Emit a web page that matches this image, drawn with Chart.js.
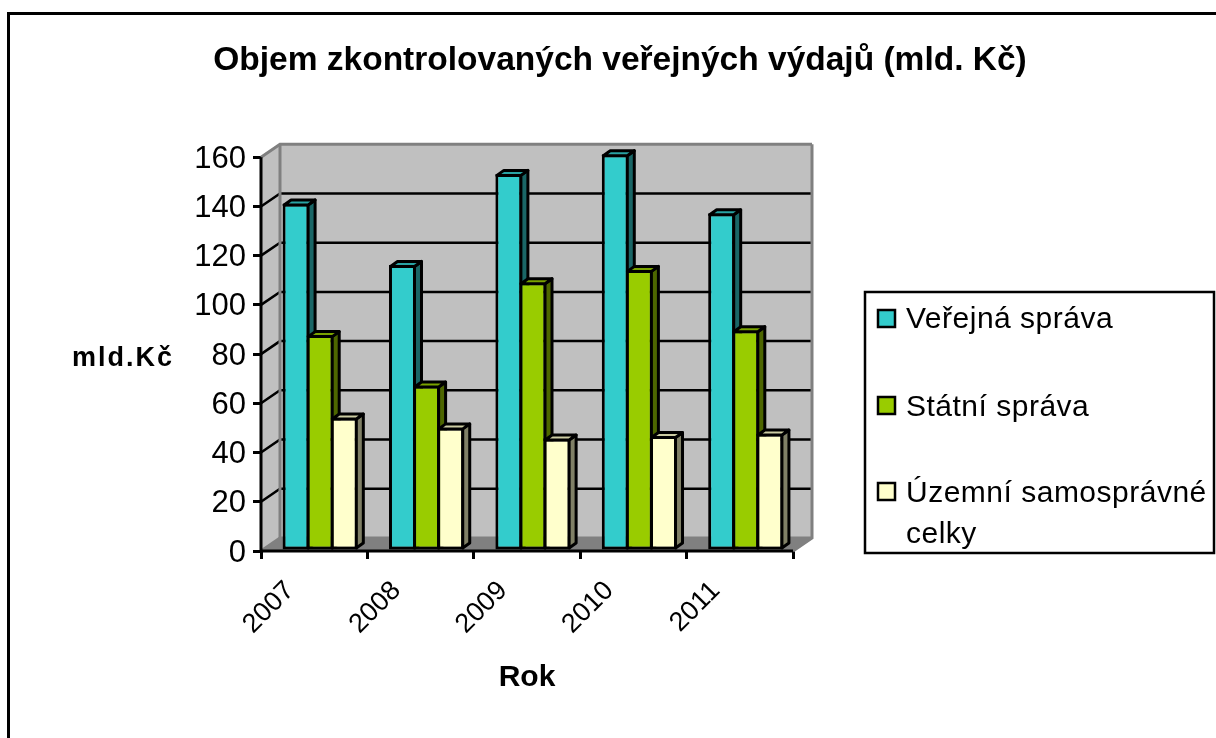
<!DOCTYPE html>
<html>
<head>
<meta charset="utf-8">
<script src="https://cdn.jsdelivr.net/npm/chart.js@4"></script>
<style>
html, body { margin: 0; padding: 0; background: #ffffff; }
#wrap { position: relative; width: 1216px; height: 738px; }
</style>
</head>
<body>
<div id="wrap"><canvas id="myChart" width="1216" height="738"></canvas></div>
<script>
const years = ['2007', '2008', '2009', '2010', '2011'];
const verejna = [140, 115, 152, 160, 136];
const statni = [86.5, 66, 108, 113, 88.5];
const uzemni = [53, 49, 44.5, 45.5, 46.5];
const y_ticks = [0, 20, 40, 60, 80, 100, 120, 140, 160];

const chart_title = 'Objem zkontrolovaných veřejných výdajů (mld. Kč)';
const y_title = 'mld.Kč';
const x_title = 'Rok';
const legend_lines = [['Veřejná správa'], ['Státní správa'], ['Územní samosprávné', 'celky']];

const face_colors = ['#33cccc', '#99cc00', '#ffffcc'];
const top_colors = ['#29a3a3', '#7aa300', '#cccca3'];
const side_colors = ['#1a6666', '#4d6600', '#808066'];

const font_name = '"Liberation Sans", Arial, sans-serif';

// how far the back wall and the bars sit behind the axis plane
const wall_dx = 19, wall_dy = -13;
const bar_dx = 6, bar_dy = -3;
const depth_dx = 7, depth_dy = -5;

function poly(ctx, pts, fill, stroke, width)
{
    ctx.beginPath();
    ctx.moveTo(pts[0][0], pts[0][1]);
    for (let i = 1; i < pts.length; i++)
        ctx.lineTo(pts[i][0], pts[i][1]);
    ctx.closePath();
    if (fill) {
        ctx.fillStyle = fill;
        ctx.fill();
    }
    if (stroke) {
        ctx.strokeStyle = stroke;
        ctx.lineWidth = width;
        ctx.lineJoin = 'round';
        ctx.stroke();
    }
}

// walls and floor behind the bars, gridlines come from the y scale
const wallPlugin = {
    id: 'wall',
    afterLayout(chart) {
        // title is centred over the whole picture, not the plot
        chart.titleBlock.left = 24;
        chart.titleBlock.right = 1216;
    },
    beforeDatasetsDraw(chart) {
        const ctx = chart.ctx;
        const a = chart.chartArea;
        const y = chart.scales.y;
        ctx.save();

        // left wall
        poly(ctx, [[a.left, a.top], [a.left + wall_dx, a.top + wall_dy],
                   [a.left + wall_dx, a.bottom + wall_dy], [a.left, a.bottom]], '#c0c0c0');
        // back wall
        poly(ctx, [[a.left + wall_dx, a.top + wall_dy], [a.right + wall_dx, a.top + wall_dy],
                   [a.right + wall_dx, a.bottom + wall_dy], [a.left + wall_dx, a.bottom + wall_dy]], '#c0c0c0');
        // floor
        poly(ctx, [[a.left, a.bottom], [a.left + wall_dx, a.bottom + wall_dy],
                   [a.right + wall_dx, a.bottom + wall_dy], [a.right, a.bottom]], '#808080');

        ctx.lineCap = 'butt';
        for (let i = 0; i < y_ticks.length; i++) {
            let py = y.getPixelForValue(y_ticks[i]);
            let edge = i == 0 || i == y_ticks.length - 1;
            ctx.beginPath();
            ctx.moveTo(a.left, py);
            ctx.lineTo(a.left + wall_dx, py + wall_dy);
            ctx.lineTo(a.right + wall_dx, py + wall_dy);
            ctx.strokeStyle = edge ? '#808080' : '#000000';
            ctx.lineWidth = edge ? 3 : 2.5;
            ctx.stroke();
        }
        // wall edges
        ctx.strokeStyle = '#808080';
        ctx.lineWidth = 3;
        ctx.beginPath();
        ctx.moveTo(a.left + wall_dx, a.top + wall_dy);
        ctx.lineTo(a.left + wall_dx, a.bottom + wall_dy);
        ctx.moveTo(a.right + wall_dx, a.top + wall_dy);
        ctx.lineTo(a.right + wall_dx, a.bottom + wall_dy);
        ctx.lineTo(a.right, a.bottom);
        ctx.stroke();

        ctx.restore();
    },
    // the default order paints the first series last, we want it first
    beforeDatasetDraw() {
        return false;
    },
    afterDatasetsDraw(chart) {
        const ctx = chart.ctx;

        // bars stand a little behind the axis plane
        ctx.save();
        ctx.translate(bar_dx, bar_dy);
        chart.data.datasets.forEach(function (ds, d) {
            let meta = chart.getDatasetMeta(d);
            meta.controller.draw();
            // sides go straight after their own bars so the next series covers them
            meta.data.forEach(function (bar) {
                let l = bar.x - bar.width / 2 + 1.5;
                let r = bar.x + bar.width / 2 - 1.5;
                let t = bar.y + 1.5;
                let b = bar.base - 1.5;
                poly(ctx, [[r, t], [r + depth_dx, t + depth_dy], [r + depth_dx, b + depth_dy], [r, b]],
                     side_colors[d], '#000000', 3);
                poly(ctx, [[l, t], [l + depth_dx, t + depth_dy], [r + depth_dx, t + depth_dy], [r, t]],
                     top_colors[d], '#000000', 3);
            });
        });
        ctx.restore();

        // axis lines on top of everything
        const a = chart.chartArea;
        ctx.save();
        ctx.strokeStyle = '#000000';
        ctx.lineWidth = 3;
        ctx.beginPath();
        ctx.moveTo(a.left, a.top);
        ctx.lineTo(a.left, a.bottom);
        ctx.lineTo(a.right, a.bottom);
        ctx.stroke();
        ctx.restore();
    },
    afterDraw(chart) {
        const ctx = chart.ctx;
        ctx.save();

        // outer frame, only left and top fall inside the picture
        ctx.strokeStyle = '#000000';
        ctx.lineWidth = 3;
        ctx.strokeRect(8.5, 13.5, 1300, 900);

        ctx.fillStyle = '#000000';
        ctx.textBaseline = 'middle';

        // y axis title stays horizontal
        ctx.font = 'bold 27px ' + font_name;
        ctx.letterSpacing = '2px';
        ctx.textAlign = 'center';
        ctx.fillText(y_title, 123, 359);

        // legend
        ctx.fillStyle = '#ffffff';
        ctx.fillRect(865, 292, 349, 261);
        ctx.strokeStyle = '#000000';
        ctx.lineWidth = 2.5;
        ctx.strokeRect(865, 292, 349, 261);

        const swatch_y = [310, 397, 483];
        const text_y = [[320], [408], [494, 535]];
        ctx.textAlign = 'left';
        ctx.font = '30px ' + font_name;
        ctx.letterSpacing = '0.5px';
        chart.data.datasets.forEach(function (ds, d) {
            ctx.fillStyle = ds.backgroundColor;
            ctx.fillRect(878, swatch_y[d], 17, 17);
            ctx.strokeRect(878, swatch_y[d], 17, 17);
            ctx.fillStyle = '#000000';
            legend_lines[d].forEach(function (line, n) {
                ctx.fillText(line, 906, text_y[d][n]);
            });
        });
        ctx.letterSpacing = '0px';
        ctx.restore();
    }
};

function make_dataset(label, values, i)
{
    return {
        label: label,
        data: values,
        backgroundColor: face_colors[i],
        borderColor: '#000000',
        borderWidth: 3,
        borderSkipped: false,
        categoryPercentage: 0.68,
        barPercentage: 1.12,
        // reaches down to the axis line despite the shift backwards
        base: -0.6
    };
}

let config = {
    type: 'bar',
    data: {
        labels: years,
        datasets: [
            make_dataset('Veřejná správa', verejna, 0),
            make_dataset('Státní správa', statni, 1),
            make_dataset('Územní samosprávné celky', uzemni, 2)
        ]
    },
    options: {
        responsive: false,
        animation: false,
        layout: {
            padding: { left: 0, right: 423, top: 0, bottom: 0 }
        },
        plugins: {
            legend: { display: false },
            tooltip: { enabled: false },
            title: {
                display: true,
                text: chart_title,
                color: '#000000',
                font: { family: font_name, size: 33.5, weight: 'bold', lineHeight: 1.2 },
                padding: { top: 41, bottom: 76 }
            }
        },
        scales: {
            x: {
                grid: {
                    drawOnChartArea: false,
                    drawTicks: true,
                    tickLength: 8,
                    color: '#000000',
                    lineWidth: 3
                },
                border: { display: false },
                ticks: {
                    color: '#000000',
                    font: { family: font_name, size: 27 },
                    minRotation: 45,
                    maxRotation: 45,
                    labelOffset: -24,
                    padding: 16
                },
                title: {
                    display: true,
                    text: x_title,
                    color: '#000000',
                    font: { family: font_name, size: 30, weight: 'bold' },
                    padding: { top: 22, bottom: 42 }
                },
                afterFit(scale) {
                    scale.height = 187;
                }
            },
            y: {
                min: 0,
                max: 160,
                grid: {
                    drawOnChartArea: false,
                    tickLength: 8,
                    color: '#000000',
                    lineWidth: 3
                },
                border: { display: false },
                ticks: {
                    stepSize: 20,
                    color: '#000000',
                    font: { family: font_name, size: 31 },
                    labelOffset: 2,
                    padding: 7
                },
                afterFit(scale) {
                    scale.width = 261;
                }
            }
        }
    },
    plugins: [wallPlugin]
};

window.chart = new Chart(document.getElementById('myChart'), config);
</script>
</body>
</html>
